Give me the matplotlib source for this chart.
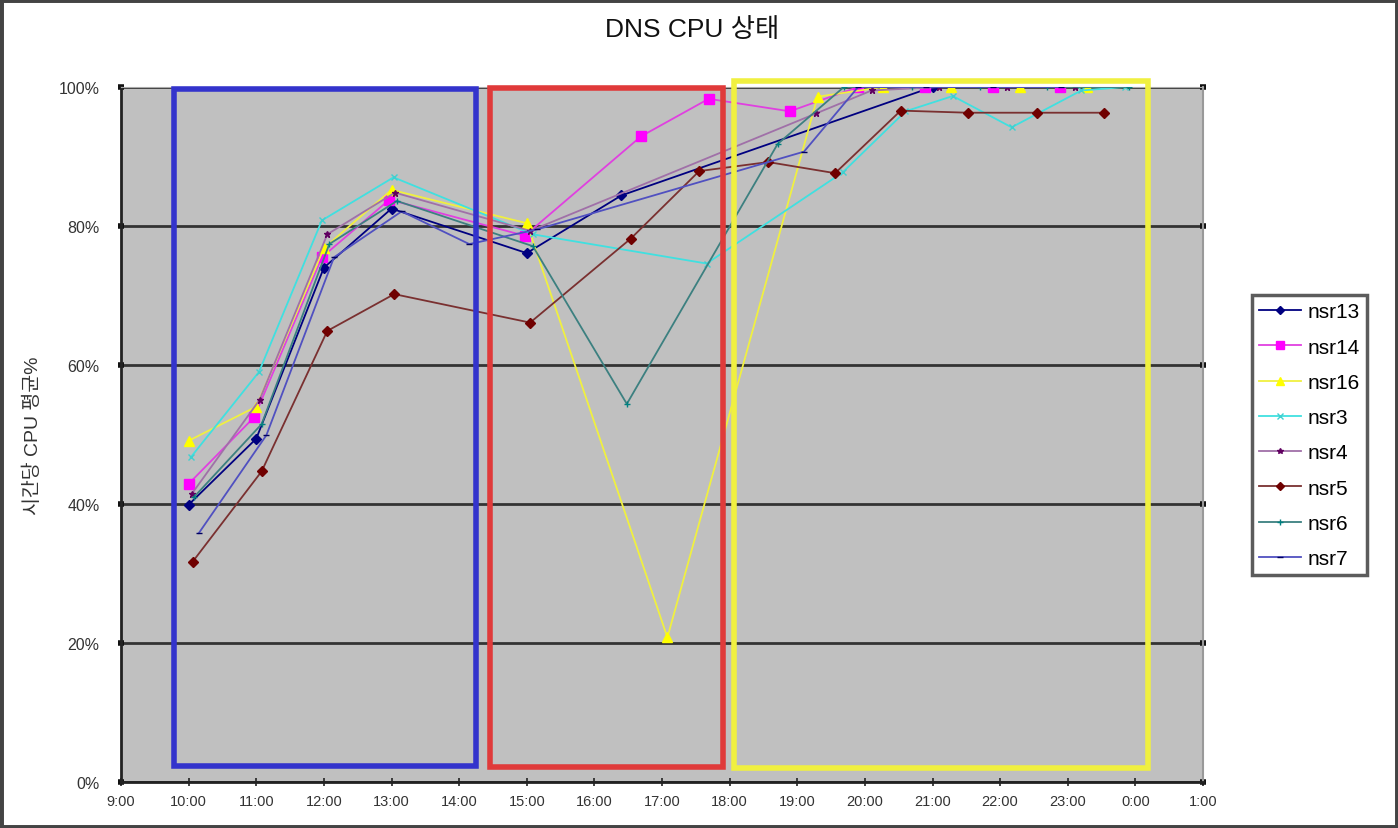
import matplotlib
matplotlib.use('Agg')
from matplotlib import pyplot as plt, rcParams
from matplotlib.patches import Rectangle

rcParams['font.family'] = ['Liberation Sans', 'Noto Sans CJK KR', 'DejaVu Sans']
rcParams['axes.unicode_minus'] = False

# 시간(시 단위, 24 이후는 다음날) / CPU 평균%
nsr13_x = [10.0, 11.0, 12.0, 13.0, 15.0, 16.4, 21.0]
nsr13_y = [39.9, 49.4, 74.0, 82.5, 76.1, 84.4, 100]
nsr14_x = [10.0, 10.97, 11.97, 12.97, 14.97, 16.69, 17.69, 18.89, 19.9, 20.89, 21.9, 22.89]
nsr14_y = [42.9, 52.5, 75.5, 83.8, 78.6, 92.9, 98.3, 96.5, 100, 100, 100, 100]
nsr16_x = [10.0, 11.0, 12.0, 13.0, 15.0, 17.08, 19.3, 20.27, 21.28, 22.29, 23.29]
nsr16_y = [49.1, 54.0, 76.8, 85.2, 80.4, 20.8, 98.6, 100, 100, 100, 100]
nsr3_x = [10.03, 11.04, 11.97, 13.03, 15.09, 17.66, 19.67, 20.6, 21.3, 22.17, 23.2, 23.85]
nsr3_y = [46.7, 59.0, 80.8, 87.0, 78.8, 74.6, 87.7, 96.5, 98.7, 94.2, 99.5, 100]
nsr4_x = [10.05, 11.05, 12.05, 13.05, 15.05, 19.28, 20.1, 21.1, 22.1, 23.1]
nsr4_y = [41.5, 55.0, 78.8, 84.8, 79.3, 96.2, 99.5, 100, 100, 100]
nsr5_x = [10.06, 11.08, 12.05, 13.04, 15.05, 16.54, 17.55, 18.57, 19.56, 20.53, 21.52, 22.54, 23.53]
nsr5_y = [31.7, 44.7, 64.9, 70.2, 66.1, 78.2, 87.9, 89.2, 87.6, 96.6, 96.3, 96.3, 96.3]
nsr6_x = [10.08, 11.08, 12.08, 13.08, 15.09, 16.48, 18.71, 19.69, 20.7, 21.7, 22.7, 23.9]
nsr6_y = [41.0, 51.5, 77.4, 83.6, 77.1, 54.4, 91.8, 100, 100, 100, 100, 100]
nsr7_x = [10.15, 11.15, 12.15, 13.15, 14.15, 15.15, 19.1, 19.9, 20.9, 21.9, 22.9]
nsr7_y = [35.8, 49.9, 75.5, 82.1, 77.4, 79.5, 90.7, 100, 100, 100, 100]

hour_ticks = list(range(9, 26))
hour_labels = ['9:00', '10:00', '11:00', '12:00', '13:00', '14:00', '15:00', '16:00', '17:00',
               '18:00', '19:00', '20:00', '21:00', '22:00', '23:00', '0:00', '1:00']
pct_ticks = [0, 20, 40, 60, 80, 100]
pct_labels = ['0%', '20%', '40%', '60%', '80%', '100%']

fig = plt.figure(figsize=(13.98, 8.29), dpi=100)
ax = fig.add_axes([121/1398, 46/829, 1082/1398, 695/829])
ax.set_facecolor('#c0c0c0')

# (이름, x, y, 선색, 마커, 마커색, 마커크기)
series = [
    ('nsr13', nsr13_x, nsr13_y, '#000080', 'D', '#000080', 5),
    ('nsr14', nsr14_x, nsr14_y, '#e040e0', 's', '#ff00ff', 7),
    ('nsr16', nsr16_x, nsr16_y, '#f0f040', '^', '#ffff00', 7),
    ('nsr3', nsr3_x, nsr3_y, '#40e0e0', 'x', '#40d0d0', 5),
    ('nsr4', nsr4_x, nsr4_y, '#a070a8', '*', '#600060', 5),
    ('nsr5', nsr5_x, nsr5_y, '#7a3030', 'D', '#700000', 5),
    ('nsr6', nsr6_x, nsr6_y, '#3c8080', '+', '#008080', 5),
    ('nsr7', nsr7_x, nsr7_y, '#5050c0', '_', '#000060', 5),
]
for name, xs, ys, lc, mk, mc, ms in series:
    ax.plot(xs, ys, color=lc, lw=1.3, marker=mk, ms=ms, mfc=mc, mec=mc, label=name, zorder=3)

ax.set_xlim(9, 25)
ax.set_ylim(0, 100)
ax.set_xticks(hour_ticks)
ax.set_xticklabels(hour_labels, fontsize=10.5, color='#333333')
ax.set_yticks(pct_ticks)
ax.set_yticklabels(pct_labels, fontsize=11.5, color='#333333')
ax.grid(axis='y', color='#333333', lw=2)
ax.set_axisbelow(True)
ax.tick_params(axis='x', direction='inout', length=6, width=1.2, color='#222222', pad=6)
ax.tick_params(axis='y', direction='inout', length=5, width=4, color='#111111', pad=13,
               right=True)
for side in ['left', 'bottom']:
    ax.spines[side].set_color('#222222')
    ax.spines[side].set_linewidth(2)
ax.spines['right'].set_color('#999999')
ax.spines['right'].set_linewidth(1.5)
ax.spines['top'].set_color('#aaaaaa')

# 구간 표시 박스
boxes = [((9.79, 2.3), 4.46, 97.4, '#3333cc'),
         ((14.46, 2.2), 3.44, 97.7, '#e03a3a'),
         ((18.07, 2.0), 6.11, 98.9, '#f0f040')]
for (bx, by), bw, bh, bc in boxes:
    ax.add_patch(Rectangle((bx, by), bw, bh, fill=False, edgecolor=bc, lw=4, zorder=4, clip_on=False))

ax.set_ylabel('시간당 CPU 평균%', fontsize=14, color='#333333', labelpad=12)
fig.text(0.495, 0.978, 'DNS CPU 상태', fontsize=19, ha='center', va='top', color='#111111')

leg = ax.legend(loc='upper left', bbox_to_anchor=(1252/1398, 533/829), bbox_transform=fig.transFigure,
                fontsize=15, frameon=True, fancybox=False, handlelength=2.0, handletextpad=0.3,
                labelspacing=0.78, borderpad=0.35, borderaxespad=0, markerscale=0.8)
leg.get_frame().set_edgecolor('#333333')
leg.get_frame().set_linewidth(2.5)

fig.patches.append(Rectangle((0, 0), 1, 1, transform=fig.transFigure, fill=False,
                             edgecolor='#444444', lw=5))
plt.savefig('out.png', dpi=100)
